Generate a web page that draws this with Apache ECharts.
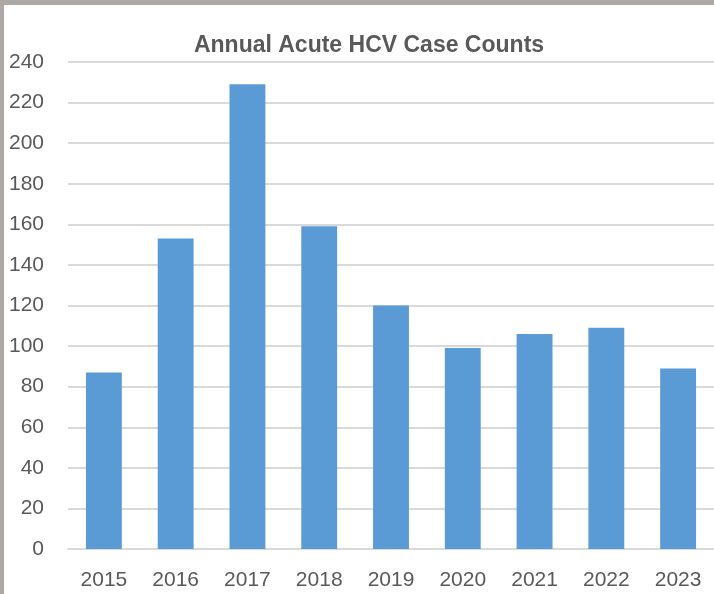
<!DOCTYPE html>
<html>
<head>
<meta charset="utf-8">
<script src="https://cdn.jsdelivr.net/npm/echarts@6/dist/echarts.min.js"></script>
<style>
html,body{margin:0;padding:0;background:#fff;}
#chart{width:714px;height:594px;}
</style>
</head>
<body>
<div id="chart"></div>
<script>
var titleText = 'Annual Acute HCV Case Counts';
var years = ['2015','2016','2017','2018','2019','2020','2021','2022','2023'];
var caseCounts = [87, 153, 229, 159, 120, 99, 106, 109, 89];
var yMin = 0, yMax = 240, yStep = 20;

var chart = echarts.init(document.getElementById('chart'), null, {renderer:'canvas'});
var labelFont = '"Liberation Sans", Arial, sans-serif';
chart.setOption({
  animation: false,
  backgroundColor: '#ffffff',
  title: {
    text: titleText,
    left: 364,
    textAlign: 'center',
    top: 29,
    textStyle: {fontFamily: labelFont, fontSize: 23, fontWeight: 'bold', color: '#595959'}
  },
  graphic: [
    {type:'rect', left:0, top:0, shape:{width:714, height:5}, style:{fill:'#aca8a6'}, z:100},
    {type:'rect', left:0, top:0, shape:{width:4, height:594}, style:{fill:'#aca8a6'}, z:100}
  ],
  grid: {left: 68, top: 62, width: 650, height: 487, containLabel: false},
  xAxis: {
    type: 'category',
    data: years,
    axisLine: {show: true, lineStyle: {color: '#d9d9d9', width: 2}},
    axisTick: {show: false},
    axisLabel: {color: '#595959', fontFamily: labelFont, fontSize: 21, margin: 21}
  },
  yAxis: {
    type: 'value',
    min: yMin, max: yMax, interval: yStep,
    axisLine: {show: false},
    axisTick: {show: false},
    splitLine: {lineStyle: {color: '#d9d9d9', width: 2}},
    axisLabel: {color: '#595959', fontFamily: labelFont, fontSize: 21, margin: 24}
  },
  series: [{
    type: 'bar',
    data: caseCounts,
    barCategoryGap: '50%',
    itemStyle: {color: '#5b9bd5'}
  }]
});
</script>
</body>
</html>
